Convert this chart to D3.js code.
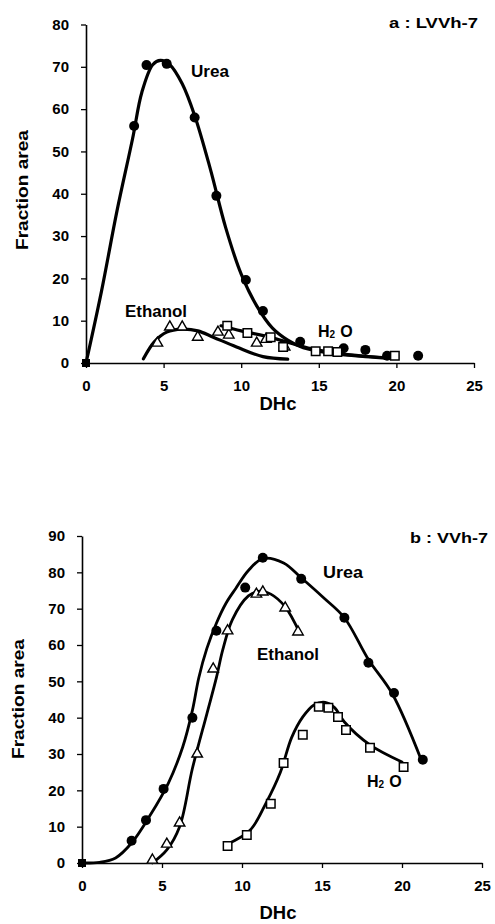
<!DOCTYPE html>
<html><head><meta charset="utf-8">
<script src="https://cdn.jsdelivr.net/npm/d3@7"></script>
<style>
body{margin:0;background:#fff}
svg{display:block}
text{font-family:"Liberation Sans",Arial,sans-serif;font-weight:bold;fill:#000}
</style>
</head><body>
<svg id="c" width="495" height="924"></svg>
<script>
// ---------- data ----------
const xTicks = [0, 5, 10, 15, 20, 25];
const yTicksA = [0, 10, 20, 30, 40, 50, 60, 70, 80];
const yTicksB = [0, 10, 20, 30, 40, 50, 60, 70, 80, 90];

// Panel a : LVVh-7  (measured points)
const aUreaPts = [[3.1,56],[3.9,70.4],[5.2,70.7],[7.0,58],[8.4,39.5],[10.3,19.6],[11.4,12.3],[13.8,5],[16.6,3.5],[18.0,3.1],[19.4,1.7],[21.4,1.7]];
const aEthanolPts = [[4.6,4.7],[5.4,8.5],[6.2,8.5],[7.2,6.1],[8.5,7.3],[9.2,6.6],[11.0,4.7],[11.6,5.6],[12.8,3.8]];
const aH2OPts = [[9.1,8.8],[10.4,7.1],[11.9,6.1],[12.7,3.8],[14.8,2.8],[15.6,2.8],[16.2,2.6],[19.9,1.7]];
// Panel a fitted curves
const aUreaFit = [[0,0],[1,17],[2,36],[3,53],[3.6,64],[4.3,70.5],[4.8,71.5],[5.4,70.5],[6.2,66],[7,58.5],[8,46],[9,32],[10,21],[11,13.5],[12,8.3],[13,5.4],[14,3.6],[16,2.2],[18,1.5],[19.6,1.1]];
const aEthanolFit = [[3.7,1],[4.4,5],[5.2,7.3],[6.2,8],[7.2,7.6],[8.2,6.1],[9.7,3.8],[11.4,1.5],[13,0.9]];
const aH2OFit = [[8.7,8.8],[10,7.6],[11.5,6.4],[13,4.9],[14.5,3.4],[16,2.4],[18,1.6],[20,1.1]];

// Panel b : VVh-7  (measured points)
const bUreaPts = [[3.1,6.1],[4.0,11.8],[5.1,20.4],[6.9,40],[8.4,63.9],[10.2,75.8],[11.3,84],[13.7,78.2],[16.4,67.5],[17.9,55.1],[19.5,46.8],[21.3,28.4]];
const bEthanolPts = [[4.4,0.8],[5.3,5.2],[6.1,11],[7.2,30],[8.2,53.4],[9.1,63.9],[10.9,74],[11.3,74.6],[12.7,70.2],[13.5,63.6]];
const bH2OPts = [[9.1,4.7],[10.3,7.7],[11.8,16.3],[12.6,27.5],[13.8,35.3],[14.8,43],[15.4,42.7],[16.0,40.2],[16.5,36.6],[18.0,31.7],[20.1,26.4]];
// Panel b fitted curves
const bUreaFit = [[0,0],[1.1,0.2],[2.1,1.4],[3.1,5.5],[4.2,12.7],[5.4,22],[6.3,32],[6.9,42],[7.3,51],[7.8,59],[8.4,66],[9.0,71.5],[9.6,75.5],[10.4,80.5],[11.3,83.8],[12.6,82.6],[13.7,78.5],[15.1,73],[16.4,67.5],[17.9,56],[19.4,46.5],[21.2,28.4]];
const bEthanolFit = [[4.4,0],[5.3,3.6],[6.1,10],[6.9,26],[7.8,41],[8.4,51],[8.8,58.7],[9.4,67],[10.4,73.5],[11.1,74.8],[11.8,74],[12.7,70.5],[13.6,63.4]];
const bH2OFit = [[9,5],[10.5,9],[11.5,16.5],[12.4,25],[13.1,34.5],[13.8,40.2],[14.5,43.5],[15.2,44.2],[15.8,42.7],[16.4,38.8],[18,32.5],[20,27.8]];

const svg = d3.select("#c");

function panel(o) {
  const x = d3.scaleLinear().domain([0, 25]).range(o.xr);
  const y = d3.scaleLinear().domain([0, o.ymax]).range(o.yr);
  const g = svg.append("g");

  // x axis
  const xa = g.append("g").attr("transform", `translate(0,${o.yr[0]})`)
    .call(d3.axisBottom(x).tickValues(xTicks).tickSize(5).tickSizeOuter(0).tickPadding(12));
  xa.select(".domain").attr("stroke-width", 1.6);
  xa.selectAll(".tick line").attr("stroke-width", 1.3);
  xa.selectAll(".tick text").attr("font-size", 15).attr("font-family", '"Liberation Sans",Arial,sans-serif').attr("font-weight", "bold");

  // y axis
  const ya = g.append("g").attr("transform", `translate(${o.xr[0]},0)`)
    .call(d3.axisLeft(y).tickValues(o.yTicks).tickSize(5).tickSizeOuter(0).tickPadding(12));
  ya.select(".domain").attr("stroke-width", 1.6);
  ya.selectAll(".tick line").attr("stroke-width", 1.3);
  ya.selectAll(".tick text").attr("font-size", 15).attr("font-family", '"Liberation Sans",Arial,sans-serif').attr("font-weight", "bold");

  const line = d3.line().x(d => x(d[0])).y(d => y(d[1])).curve(d3.curveCatmullRom.alpha(0.5));
  [o.uFit, o.eFit, o.hFit].forEach(f => {
    g.append("path").attr("d", line(f)).attr("fill", "none").attr("stroke", "#000")
      .attr("stroke-width", o.lw).attr("stroke-linecap", "round");
  });

  // markers
  g.selectAll(".u").data(o.uPts).enter().append("circle")
    .attr("cx", d => x(d[0])).attr("cy", d => y(d[1])).attr("r", 5).attr("fill", "#000");
  const tri = d3.symbol().type(d3.symbolTriangle).size(48);
  g.selectAll(".e").data(o.ePts).enter().append("path").attr("d", tri)
    .attr("transform", d => `translate(${x(d[0])},${y(d[1])})`)
    .attr("fill", "#fff").attr("stroke", "#000").attr("stroke-width", 1.4);
  const sq = d3.symbol().type(d3.symbolSquare).size(72);
  g.selectAll(".h").data(o.hPts).enter().append("path").attr("d", sq)
    .attr("transform", d => `translate(${x(d[0])},${y(d[1])})`)
    .attr("fill", "#fff").attr("stroke", "#000").attr("stroke-width", 1.5);
  // origin marker
  g.append("rect").attr("x", x(0) - 4).attr("y", y(0) - 4).attr("width", 8).attr("height", 8).attr("fill", "#000");

  // axis titles
  g.append("text").attr("x", o.dhc[0]).attr("y", o.dhc[1]).attr("text-anchor", "middle")
    .attr("font-size", 18).attr("textLength", 37).attr("lengthAdjust", "spacingAndGlyphs").text("DHc");
  g.append("text").attr("transform", `translate(${o.fa[0]},${o.fa[1]}) rotate(-90)`).attr("text-anchor", "middle")
    .attr("font-size", 17).attr("textLength", 120).attr("lengthAdjust", "spacingAndGlyphs").text("Fraction area");

  // labels
  g.append("text").attr("x", o.title[0]).attr("y", o.title[1]).attr("font-size", 15)
    .attr("textLength", o.title[2]).attr("lengthAdjust", "spacingAndGlyphs").text(o.titleText);
  g.append("text").attr("x", o.uLab[0]).attr("y", o.uLab[1]).attr("font-size", 16)
    .attr("textLength", o.uLab[2]).attr("lengthAdjust", "spacingAndGlyphs").text("Urea");
  g.append("text").attr("x", o.eLab[0]).attr("y", o.eLab[1]).attr("font-size", 16)
    .attr("textLength", 62).attr("lengthAdjust", "spacingAndGlyphs").text("Ethanol");
  const h = g.append("text").attr("x", o.hLab[0]).attr("y", o.hLab[1]).attr("font-size", 16);
  h.append("tspan").text("H");
  h.append("tspan").attr("font-size", 10).attr("dy", 1).text("2");
  h.append("tspan").attr("dy", -1).attr("dx", 5).text("O");
}

panel({
  xr: [86, 474], yr: [363, 24.5], ymax: 80, yTicks: yTicksA, lw: 3.2,
  uPts: aUreaPts, ePts: aEthanolPts, hPts: aH2OPts,
  uFit: aUreaFit, eFit: aEthanolFit, hFit: aH2OFit,
  dhc: [278, 410], fa: [28, 190],
  title: [389, 28, 89], titleText: "a : LVVh-7",
  uLab: [191, 77, 38], eLab: [125, 317], hLab: [318, 337]
});

panel({
  xr: [82, 482], yr: [863, 536], ymax: 90, yTicks: yTicksB, lw: 2.8,
  uPts: bUreaPts, ePts: bEthanolPts, hPts: bH2OPts,
  uFit: bUreaFit, eFit: bEthanolFit, hFit: bH2OFit,
  dhc: [278, 919], fa: [24, 699],
  title: [410, 543, 78], titleText: "b : VVh-7",
  uLab: [323, 578, 40], eLab: [257, 660], hLab: [367, 787]
});
</script>
</body></html>
